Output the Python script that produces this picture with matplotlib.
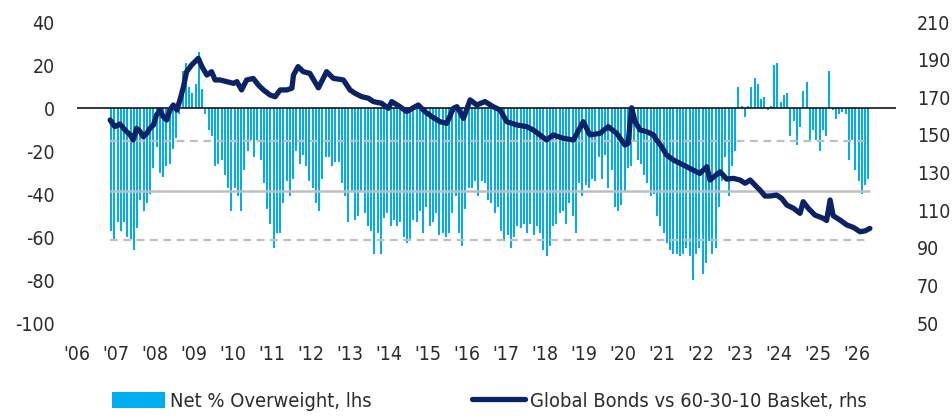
import matplotlib
matplotlib.use('Agg')
import matplotlib.pyplot as plt
import numpy as np
import pandas as pd

plt.rcParams['font.family'] = ['DejaVu Sans']
plt.rcParams['font.stretch'] = 'condensed'
plt.rcParams['axes.unicode_minus'] = False

# net % overweight bonds (lhs), monthly from Nov 2006
first_month = '2006-11'
y2006 = [-57, -61]
y2007 = [-53, -57, -53, -60, -61, -66, -56, -43, -48, -44, -40, -28]
y2008 = [-18, -30, -32, -27, -26, -19, -14, -3, 17, 21, 10, 7]
y2009 = [11, 26, 9, -3, -10, -13, -27, -26, -24, -31, -37, -48]
y2010 = [-37, -41, -48, -29, -20, -15, -23, -15, -24, -35, -47, -54]
y2011 = [-65, -58, -58, -44, -34, -41, -33, -20, -26, -22, -27, -34]
y2012 = [-37, -44, -48, -33, -23, -23, -27, -25, -25, -35, -41, -53]
y2013 = [-39, -52, -50, -39, -49, -55, -57, -68, -58, -68, -51, -49]
y2014 = [-55, -52, -55, -53, -60, -63, -62, -52, -53, -48, -58, -46]
y2015 = [-55, -53, -49, -59, -58, -60, -58, -49, -41, -58, -64, -47]
y2016 = [-37, -37, -34, -41, -34, -35, -43, -44, -49, -46, -57, -62]
y2017 = [-59, -65, -60, -55, -56, -54, -58, -54, -59, -55, -58, -66]
y2018 = [-69, -64, -55, -54, -49, -48, -54, -44, -50, -58, -35, -41]
y2019 = [-36, -37, -33, -34, -23, -33, -22, -37, -29, -46, -48, -45]
y2020 = [-39, -28, -27, -15, -24, -26, -31, -35, -41, -40, -50, -55]
y2021 = [-58, -63, -66, -68, -68, -69, -68, -65, -69, -80, -68, -65]
y2022 = [-77, -72, -62, -68, -65, -46, -34, -23, -41, -27, -20, 10]
y2023 = [1, -4, 1, 10, 14, 11, 4, 5, -1, 1, 20, 21]
y2024 = [3, 6, 7, -13, -6, -17, -9, 8, 12, -15, -10, -15]
y2025 = [-20, -10, -13, 17, -1, -5, -3, -2, -3, -24, -15, -29]
y2026 = [-34, -40, -36, -33]

net_ow = (y2006 + y2007 + y2008 + y2009 + y2010 + y2011 + y2012 + y2013 + y2014
          + y2015 + y2016 + y2017 + y2018 + y2019 + y2020 + y2021 + y2022
          + y2023 + y2024 + y2025 + y2026)

# long run average and +/- 1 stdev of net % overweight
ow_mean = -38.4
ow_std = 22.9

# global bonds vs 60-30-10 basket (rhs): decimal year, index level
idx_t = [2006.85, 2006.97, 2007.10, 2007.23, 2007.36, 2007.44, 2007.53, 2007.62, 2007.70, 2007.79,
         2007.87, 2007.96, 2008.04, 2008.13, 2008.21, 2008.30, 2008.38, 2008.47, 2008.56, 2008.64,
         2008.73, 2008.81, 2008.94, 2009.11, 2009.20, 2009.33, 2009.45, 2009.54, 2009.67, 2009.84,
         2010.01, 2010.10, 2010.22, 2010.35, 2010.52, 2010.65, 2010.78, 2010.95, 2011.08, 2011.21,
         2011.38, 2011.51, 2011.55, 2011.67, 2011.80, 2011.97, 2012.19, 2012.40, 2012.57, 2012.83,
         2013.00, 2013.13, 2013.30, 2013.47, 2013.60, 2013.81, 2013.98, 2014.07, 2014.28, 2014.45,
         2014.59, 2014.75, 2014.92, 2015.10, 2015.31, 2015.48, 2015.65, 2015.74, 2015.91, 2016.08,
         2016.25, 2016.46, 2016.67, 2016.85, 2017.02, 2017.27, 2017.53, 2017.70, 2018.04, 2018.21,
         2018.47, 2018.73, 2018.98, 2019.15, 2019.41, 2019.62, 2019.84, 2020.05, 2020.13, 2020.22,
         2020.31, 2020.44, 2020.61, 2020.78, 2020.86, 2020.99, 2021.12, 2021.29, 2021.46, 2021.63,
         2021.80, 2021.97, 2022.15, 2022.23, 2022.49, 2022.66, 2022.83, 2023.00, 2023.13, 2023.26,
         2023.38, 2023.51, 2023.64, 2023.77, 2023.94, 2024.07, 2024.20, 2024.37, 2024.54, 2024.62,
         2024.75, 2024.92, 2025.14, 2025.22, 2025.31, 2025.39, 2025.56, 2025.74, 2025.91, 2026.08,
         2026.21, 2026.33]
idx_v = [157.9, 154.4, 155.8, 152.6, 150.0, 147.3, 153.5, 151.7, 149.0, 150.8,
         153.5, 155.3, 160.6, 163.2, 159.7, 157.9, 163.2, 165.9, 163.2, 168.6,
         175.6, 183.6, 187.2, 190.7, 186.4, 181.8, 183.6, 179.2, 179.2, 178.3,
         177.4, 178.3, 173.9, 179.2, 180.0, 176.5, 173.9, 171.2, 170.3, 173.9,
         173.9, 174.8, 181.8, 186.3, 183.6, 182.7, 175.0, 183.6, 180.1, 179.2,
         173.9, 172.1, 170.3, 169.5, 167.7, 166.8, 164.1, 167.7, 165.0, 162.4,
         164.0, 165.9, 162.4, 159.7, 157.0, 156.1, 164.1, 165.0, 158.8, 168.6,
         165.9, 167.7, 165.0, 163.2, 157.0, 155.3, 154.4, 152.6, 147.3, 150.0,
         148.2, 147.3, 157.0, 150.0, 150.8, 154.4, 150.8, 144.6, 145.5, 164.4,
         157.0, 152.6, 151.7, 150.0, 147.3, 143.7, 139.3, 136.7, 134.9, 133.1,
         131.3, 129.5, 133.1, 126.0, 130.4, 126.5, 126.9, 126.0, 124.3, 126.0,
         123.4, 120.7, 117.5, 117.5, 118.0, 116.2, 112.7, 111.0, 108.3, 114.5,
         111.0, 107.4, 105.6, 104.5, 115.4, 107.0, 104.8, 102.1, 100.8, 98.5,
         99.0, 100.3]

years = list(range(2006, 2027))
year_labels = ["'%02d" % (y % 100) for y in years]

bar_color = '#00AEEF'
line_color = '#0B2266'
ref_color = '#BFBFBF'
text_color = '#2B2B2B'

months = pd.period_range(first_month, periods=len(net_ow), freq='M')
bar_t = np.array([m.year + (m.month - 0.5) / 12 for m in months])

fig = plt.figure(figsize=(9.53, 4.17), dpi=100)
ax = fig.add_axes([0.0808, 0.2254, 0.8594, 0.7218])

bars = ax.bar(bar_t, net_ow, width=0.054, color=bar_color, linewidth=0,
              label='Net % Overweight, lhs', zorder=2)

t0, t1 = bar_t[0] - 0.03, bar_t[-1] + 0.03
ax.hlines([ow_mean + ow_std, ow_mean - ow_std], t0, t1 - 0.1, colors=ref_color,
          linestyles=(0, (3.5, 2.5)), linewidth=1.6, zorder=3)
ax.hlines(ow_mean, t0, t1, colors=ref_color, linewidth=1.8, zorder=3)
ax.axhline(0, color='black', linewidth=1.1, zorder=4)

ax.set_xlim(2006, 2027)
ax.set_ylim(-100, 40)
ax.set_yticks(range(-100, 41, 20))
ax.set_xticks(years)
ax.set_xticklabels(year_labels)

ax2 = ax.twinx()
ln, = ax2.plot(idx_t, idx_v, color=line_color, linewidth=3.8,
               solid_joinstyle='round', solid_capstyle='round',
               label='Global Bonds vs 60-30-10 Basket, rhs')
ax2.set_ylim(50, 210)
ax2.set_yticks(range(50, 211, 20))

for a in (ax, ax2):
    for s in a.spines.values():
        s.set_visible(False)
    a.tick_params(length=0, labelsize=14, colors=text_color)
ax.tick_params(axis='x', pad=16)
ax.tick_params(axis='y', pad=16)
ax2.tick_params(axis='y', pad=15)

leg = fig.legend([bars, ln], ['Net % Overweight, lhs', 'Global Bonds vs 60-30-10 Basket, rhs'],
                 loc='center', bbox_to_anchor=(0.5136, 0.038), ncol=2, frameon=False,
                 fontsize=14.4, handlelength=2.65, handleheight=0.9, handletextpad=0.25,
                 columnspacing=5.0, labelcolor=text_color)

fig.savefig('out.png', dpi=100)
